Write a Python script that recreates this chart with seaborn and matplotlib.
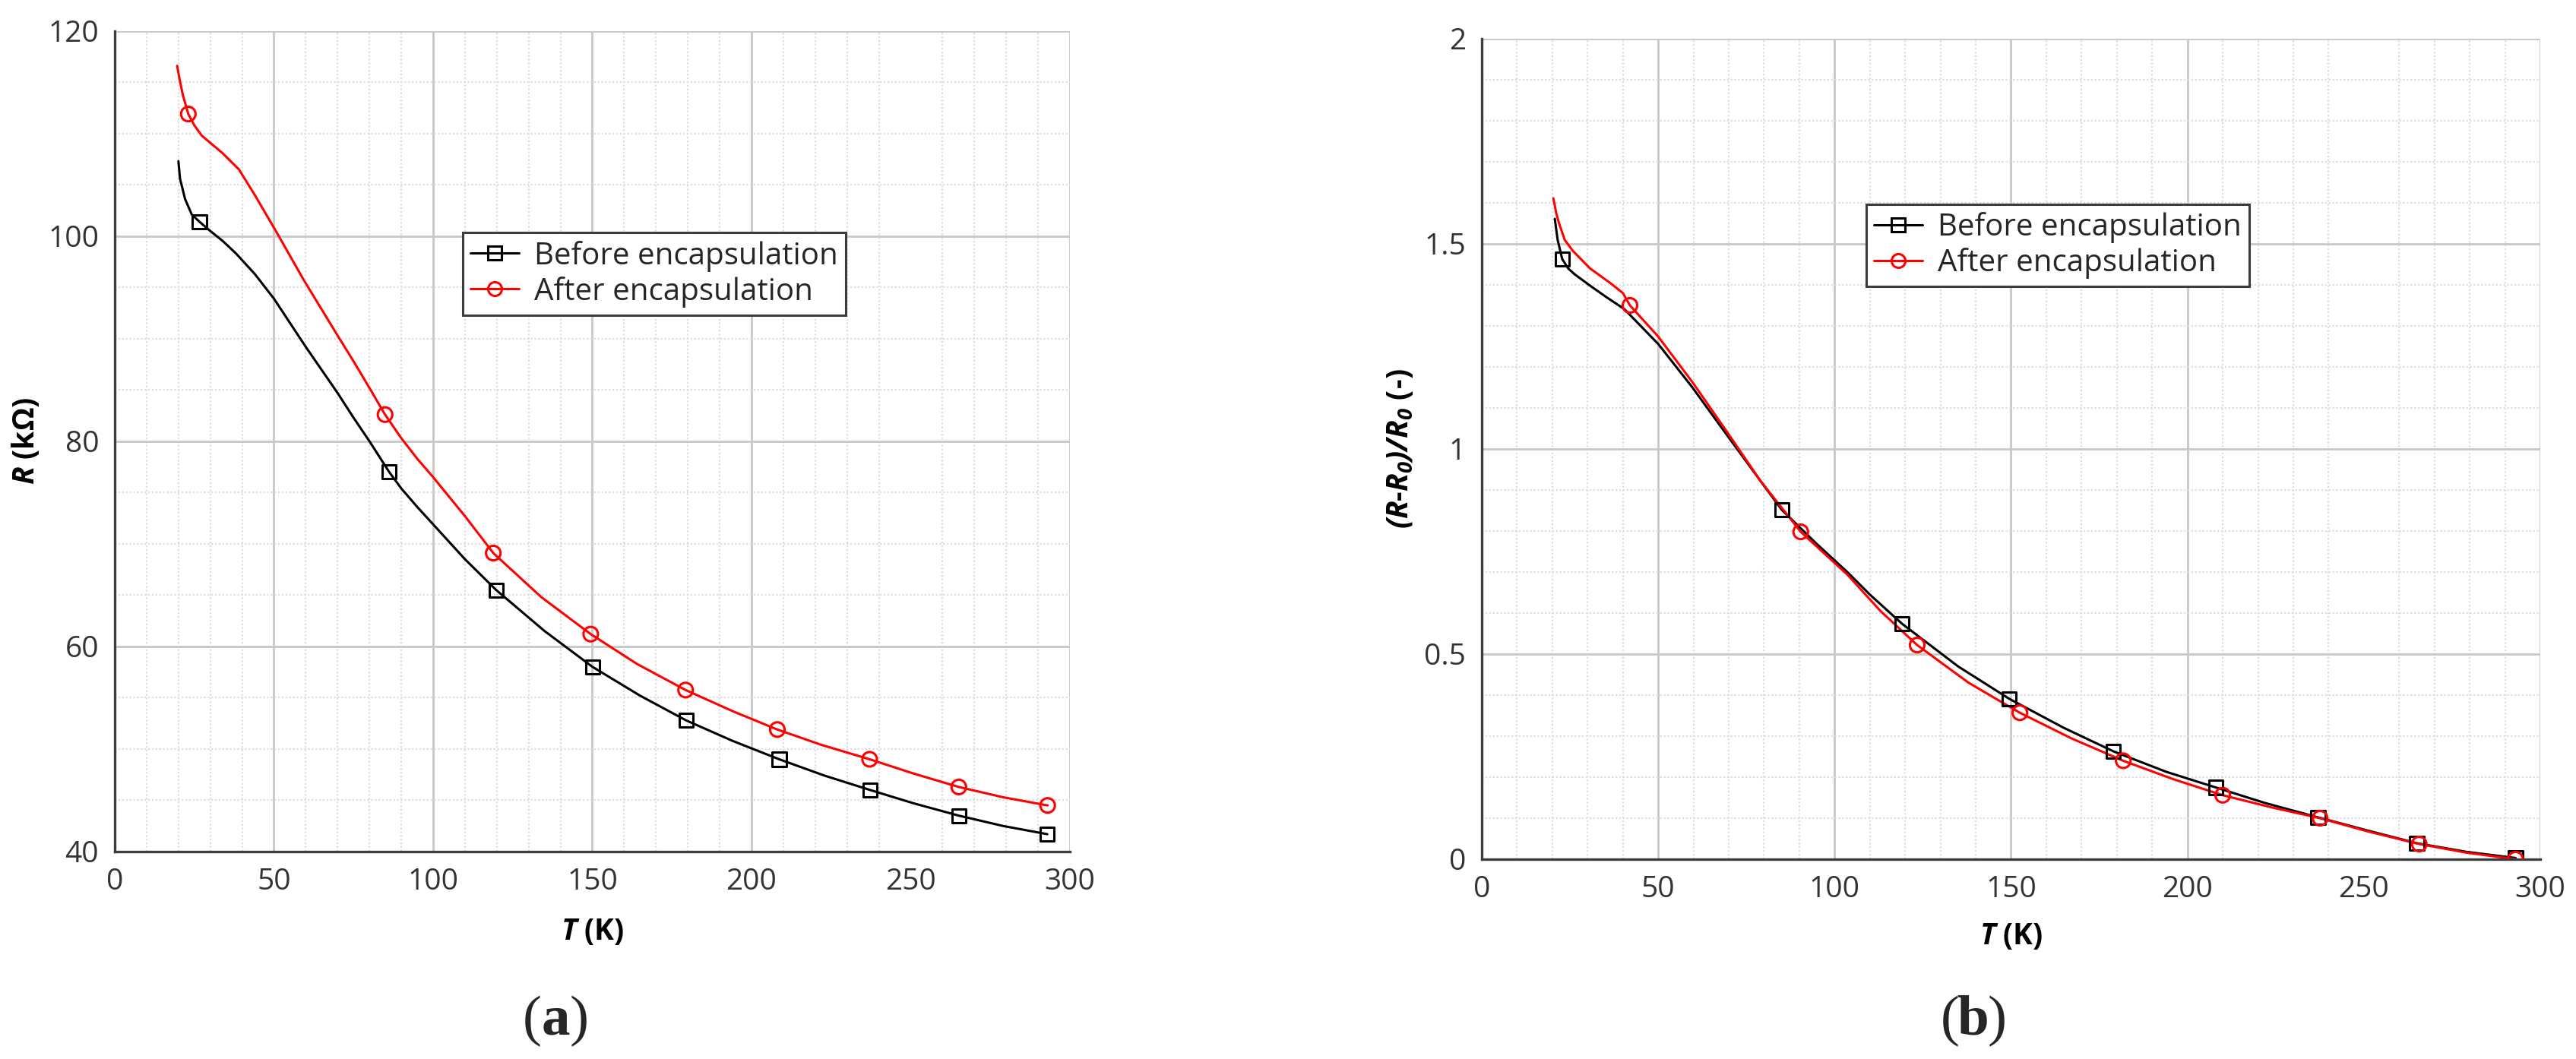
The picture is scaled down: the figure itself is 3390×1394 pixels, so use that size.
import numpy as np
import pandas as pd
import matplotlib
matplotlib.use('Agg')
import matplotlib.pyplot as plt
from matplotlib.ticker import MultipleLocator, FuncFormatter
from matplotlib.lines import Line2D
import seaborn as sns

# (a) resistance curves, T in K, R in kOhm
T_a_before = [20, 20.5, 22.1, 24.2, 26.6, 30, 34, 38.1, 44, 50, 60, 70, 75, 80, 86.2, 90, 95, 100, 110, 119.8,
              135, 150.1, 165, 179.4, 194, 208.7, 223, 237.3, 251, 265.2, 279, 292.9]
R_a_before = [107.3, 105.6, 103.6, 102.1, 101.4, 100.5, 99.5, 98.3, 96.3, 93.9, 89.2, 84.7, 82.3, 80.0, 77.0, 75.4, 73.6, 71.9, 68.5, 65.5,
              61.5, 58.0, 55.2, 52.8, 50.8, 49.0, 47.4, 46.0, 44.7, 43.5, 42.5, 41.7]
T_a_after = [19.6, 20.3, 21.4, 23.1, 25, 27.3, 33.8, 39, 44, 50.6, 59.4, 70, 75, 80, 84.9, 90, 95, 100, 110, 118.9,
             134, 149.5, 164, 179.3, 194, 208.1, 222, 237.1, 251, 265.1, 279, 293]
R_a_after = [116.6, 115.4, 113.75, 111.9, 110.8, 109.8, 108.1, 106.5, 104.0, 100.5, 95.7, 90.3, 87.8, 85.2, 82.6, 80.3, 78.3, 76.5, 72.7, 69.1,
             64.8, 61.2, 58.3, 55.75, 53.7, 51.9, 50.4, 49.0, 47.6, 46.3, 45.3, 44.5]

# (a) marker positions
Tm_a_before = [26.6, 86.2, 119.8, 150.1, 179.4, 208.7, 237.3, 265.2, 292.9]
Rm_a_before = [101.4, 77.0, 65.5, 58.0, 52.8, 49.0, 46.0, 43.5, 41.7]
Tm_a_after = [23.1, 84.9, 118.9, 149.5, 179.3, 208.1, 237.1, 265.1, 293.0]
Rm_a_after = [111.9, 82.6, 69.1, 61.2, 55.75, 51.9, 49.0, 46.3, 44.5]

# (b) relative change (R-R0)/R0
T_b_before = [20.7, 21.5, 22.8, 24.5, 26.3, 30.7, 35, 40.4, 50, 59.7, 69.4, 79, 85, 95, 103.6, 110, 119.1,
              135, 149.5, 165, 179, 194, 208, 222, 237, 251, 265, 279, 293]
Y_b_before = [1.561, 1.51, 1.463, 1.44, 1.426, 1.398, 1.372, 1.341, 1.256, 1.15, 1.035, 0.922, 0.852, 0.768, 0.70, 0.645, 0.574,
              0.47, 0.391, 0.32, 0.263, 0.213, 0.175, 0.137, 0.102, 0.07, 0.039, 0.018, 0.003]
T_b_after = [20.3, 21.1, 21.9, 23.5, 25.8, 30.7, 36.5, 40, 42, 46, 50, 59.7, 69.4, 79, 90.4, 103.7, 113, 123.4,
             138, 152.5, 167, 181.8, 196, 210, 224, 237.6, 251, 265.7, 279, 293]
Y_b_after = [1.611, 1.575, 1.55, 1.51, 1.483, 1.44, 1.404, 1.38, 1.35, 1.312, 1.274, 1.163, 1.043, 0.922, 0.798, 0.693, 0.605, 0.522,
             0.43, 0.357, 0.295, 0.24, 0.195, 0.156, 0.126, 0.1, 0.068, 0.037, 0.016, 0.0]

# (b) marker positions
Tm_b_before = [22.8, 85, 119.1, 149.5, 179, 208, 237, 265, 293]
Ym_b_before = [1.463, 0.852, 0.574, 0.391, 0.263, 0.175, 0.102, 0.039, 0.003]
Tm_b_after = [42, 90.4, 123.4, 152.5, 181.8, 210, 237.6, 265.7, 293]
Ym_b_after = [1.35, 0.798, 0.522, 0.357, 0.24, 0.156, 0.1, 0.037, 0.0]

labels = ['Before encapsulation', 'After encapsulation']

sns.set_style('white')
plt.rcParams['font.family'] = ['Open Sans', 'DejaVu Sans']
plt.rcParams['mathtext.fontset'] = 'custom'
plt.rcParams['mathtext.rm'] = 'Open Sans'
plt.rcParams['mathtext.it'] = 'Open Sans:italic'
plt.rcParams['mathtext.bf'] = 'Open Sans:bold'
plt.rcParams['mathtext.bfit'] = 'Open Sans:italic:bold'

AX_COL = '#3c3c3c'
LW = 2.2

fig = plt.figure(figsize=(33.9, 13.94), dpi=100)
ax1 = fig.add_axes([0.04454, 0.19584, 0.37080, 0.77497])
ax2 = fig.add_axes([0.57522, 0.18867, 0.41091, 0.77475])


def draw(ax, tb, yb, tmb, ymb, ta, ya, tma, yma):
    sns.lineplot(x=tb, y=yb, ax=ax, color='black', linewidth=LW, sort=False, estimator=None, legend=False)
    sns.lineplot(x=ta, y=ya, ax=ax, color='red', linewidth=LW, sort=False, estimator=None, legend=False)
    sns.scatterplot(x=tmb, y=ymb, ax=ax, marker='s', s=170, facecolor='none', edgecolor='black',
                    linewidth=LW, zorder=4, legend=False)
    sns.scatterplot(x=tma, y=yma, ax=ax, marker='o', s=190, facecolor='none', edgecolor='red',
                    linewidth=LW, zorder=5, legend=False)


def style(ax, ylim, ymaj, ymin):
    ax.set_xlim(0, 300)
    ax.set_ylim(*ylim)
    ax.xaxis.set_major_locator(MultipleLocator(50))
    ax.xaxis.set_minor_locator(MultipleLocator(10))
    ax.yaxis.set_major_locator(MultipleLocator(ymaj))
    ax.yaxis.set_minor_locator(MultipleLocator(ymin))
    ax.yaxis.set_major_formatter(FuncFormatter(lambda v, p: f'{v:g}'))
    ax.grid(which='major', color='#c8c8c8', linewidth=2)
    ax.grid(which='minor', color='#dedede', linewidth=1.6, linestyle=(0, (1, 1.2)))
    ax.set_axisbelow(True)
    for s in ['top', 'right']:
        ax.spines[s].set_visible(False)
    for s in ['left', 'bottom']:
        ax.spines[s].set_color(AX_COL)
        ax.spines[s].set_linewidth(2.4)
    ax.tick_params(which='major', direction='out', length=10, width=1.8, color=AX_COL,
                   labelsize=28, labelcolor='#333333', pad=5)
    ax.tick_params(which='minor', direction='out', length=5.5, width=1.5, color=AX_COL)
    for t in ax.xaxis.get_major_ticks():
        if abs(t.get_loc() - 300) < 1e-6:
            t.gridline.set_visible(False)
    for t in ax.yaxis.get_major_ticks():
        if abs(t.get_loc() - ylim[1]) < 1e-6:
            t.gridline.set_visible(False)
    ax.set_xlabel(r'$\mathbfit{T}$ (K)', fontsize=28, fontweight='bold', color='black')


def add_legend(ax, anchor):
    h1 = Line2D([], [], color='black', lw=LW, marker='s', ms=13, mfc='none', mec='black', mew=LW)
    h2 = Line2D([], [], color='red', lw=LW, marker='o', ms=13, mfc='none', mec='red', mew=LW)
    leg = ax.legend([h1, h2], labels, loc='upper left', bbox_to_anchor=anchor, fontsize=29,
                    frameon=True, fancybox=False, edgecolor=AX_COL, framealpha=1,
                    borderpad=0.25, labelspacing=0.15, handlelength=1.6, handletextpad=0.5,
                    borderaxespad=0)
    leg.get_frame().set_linewidth(2.2)


draw(ax1, T_a_before, R_a_before, Tm_a_before, Rm_a_before, T_a_after, R_a_after, Tm_a_after, Rm_a_after)
style(ax1, (40, 120), 20, 5)
ax1.set_ylabel(r'$\mathbfit{R}$ (kΩ)', fontsize=28, fontweight='bold', color='black')
ax1.yaxis.set_label_coords(-0.077, 0.5)
ax1.xaxis.set_label_coords(0.5, -0.08)
add_legend(ax1, (0.364, 0.754))

draw(ax2, T_b_before, Y_b_before, Tm_b_before, Ym_b_before, T_b_after, Y_b_after, Tm_b_after, Ym_b_after)
style(ax2, (0, 2), 0.5, 0.1)
ax2.set_ylabel(r'$\mathbfit{(R}$-$\mathbfit{R_0)/R_0}$ (-)', fontsize=28, fontweight='bold', color='black')
ax2.yaxis.set_label_coords(-0.063, 0.5)
ax2.xaxis.set_label_coords(0.5, -0.076)
add_legend(ax2, (0.363, 0.798))


# panel letters: regular parentheses, bold letter
def panel_letter(xc_px, letter):
    W = 3390.0
    y = 0.023
    fig.text((xc_px - 31) / W, y, '(', fontsize=54, family='Liberation Serif', ha='center', va='baseline')
    fig.text(xc_px / W, y, letter, fontsize=54, family='Liberation Serif', fontweight='bold',
             ha='center', va='baseline')
    fig.text((xc_px + 31) / W, y, ')', fontsize=54, family='Liberation Serif', ha='center', va='baseline')


panel_letter(731, 'a')
panel_letter(2597, 'b')

fig.savefig('out.png', dpi=100, facecolor='white')
